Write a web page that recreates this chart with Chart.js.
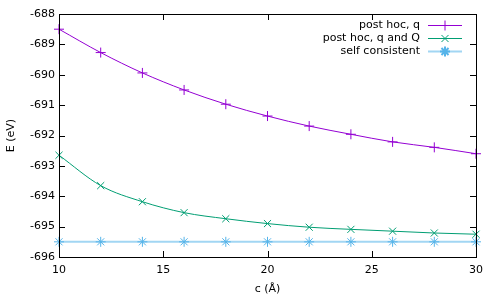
<!DOCTYPE html>
<html>
<head>
<meta charset="utf-8">
<script src="https://cdn.jsdelivr.net/npm/chart.js@4"></script>
<style>
  html, body { margin: 0; padding: 0; background: #fff; }
  #wrap { width: 498px; height: 299px; }
</style>
</head>
<body>
<div id="wrap"><canvas id="energyChart" width="498" height="299"></canvas></div>
<script>
// cell parameter c (Å)
const cValues = [10, 12, 14, 16, 18, 20, 22, 24, 26, 28, 30];
// energies (eV)
const postHocQ = [-688.50, -689.27, -689.94, -690.50, -690.97, -691.36, -691.69, -691.96, -692.21, -692.39, -692.60];
const postHocQandQ = [-692.65, -693.65, -694.18, -694.54, -694.74, -694.90, -695.02, -695.09, -695.15, -695.21, -695.25];
const selfConsistent = [-695.50, -695.50, -695.50, -695.50, -695.50, -695.50, -695.50, -695.50, -695.50, -695.50, -695.50];
const seriesLabels = ["post hoc, q", "post hoc, q and Q", "self consistent"];
const xTicks = [10, 15, 20, 25, 30];
const yTicks = [-696, -695, -694, -693, -692, -691, -690, -689, -688];

const FONT = "'DejaVu Sans', sans-serif";
const FONT_SIZE = 11;

function toPoints(values) {
  return cValues.map((c, i) => ({ x: c, y: values[i] }));
}

// gnuplot-like frame with inward ticks on all four sides
const framePlugin = {
  id: "frame",
  afterDatasetsDraw(chart) {
    const ctx = chart.ctx;
    const a = chart.chartArea;
    const xs = chart.scales.x;
    const ys = chart.scales.y;
    ctx.save();
    ctx.strokeStyle = "#000";
    ctx.lineWidth = 1;
    ctx.beginPath();
    xTicks.forEach((t) => {
      const px = Math.round(xs.getPixelForValue(t)) + 0.5;
      ctx.moveTo(px, a.bottom);
      ctx.lineTo(px, a.bottom - 6);
      ctx.moveTo(px, a.top);
      ctx.lineTo(px, a.top + 6);
    });
    yTicks.forEach((t) => {
      const py = Math.round(ys.getPixelForValue(t)) + 0.5;
      ctx.moveTo(a.left, py);
      ctx.lineTo(a.left + 6, py);
      ctx.moveTo(a.right, py);
      ctx.lineTo(a.right - 6, py);
    });
    ctx.stroke();
    ctx.strokeRect(Math.round(a.left) + 0.5, Math.round(a.top) + 0.5,
      Math.round(a.right - a.left), Math.round(a.bottom - a.top));
    ctx.restore();
  },
  afterDraw(chart) {
    // legend: right-aligned text, sample line with marker on the right
    const ctx = chart.ctx;
    ctx.save();
    ctx.font = FONT_SIZE + "px " + FONT;
    ctx.textAlign = "right";
    ctx.textBaseline = "middle";
    chart.data.datasets.forEach((ds, i) => {
      const y = 25.5 + i * 13;
      ctx.fillStyle = "#000";
      ctx.fillText(ds.label, 420, y);
      ctx.strokeStyle = ds.borderColor;
      ctx.lineWidth = ds.borderWidth;
      ctx.beginPath();
      ctx.moveTo(428, y);
      ctx.lineTo(462, y);
      ctx.stroke();
      ctx.strokeStyle = ds.pointBorderColor;
      Chart.helpers.drawPoint(ctx, {
        pointStyle: ds.pointStyle,
        radius: ds.pointRadius,
        rotation: 0,
        borderWidth: 1
      }, 445, y);
    });
    ctx.restore();
  }
};

const chartCanvas = document.getElementById("energyChart");
new Chart(chartCanvas, {
  type: "line",
  data: {
    datasets: [
      {
        label: seriesLabels[0],
        data: toPoints(postHocQ),
        borderColor: "#9400d3",
        pointBorderColor: "#9400d3",
        backgroundColor: "#9400d3",
        borderWidth: 1,
        pointStyle: "cross",
        pointRadius: 5,
        pointBorderWidth: 1,
        cubicInterpolationMode: "monotone",
      },
      {
        label: seriesLabels[1],
        data: toPoints(postHocQandQ),
        borderColor: "#009e73",
        pointBorderColor: "#009e73",
        backgroundColor: "#009e73",
        borderWidth: 1,
        pointStyle: "crossRot",
        pointRadius: 5,
        pointBorderWidth: 1,
        cubicInterpolationMode: "monotone",
      },
      {
        label: seriesLabels[2],
        data: toPoints(selfConsistent),
        borderColor: "rgba(86,180,233,0.55)",
        pointBorderColor: "#56b4e9",
        backgroundColor: "#56b4e9",
        borderWidth: 2,
        pointStyle: "star",
        pointRadius: 5,
        pointBorderWidth: 1,
      },
    ],
  },
  options: {
    responsive: false,
    animation: false,
    events: [],
    clip: false,
    layout: { padding: { top: 14, right: 22, left: 0, bottom: 0 } },
    plugins: { legend: { display: false }, tooltip: { enabled: false } },
    scales: {
      x: {
        type: "linear",
        min: 10,
        max: 30,
        afterBuildTicks(scale) {
          scale.ticks = xTicks.map((v) => ({ value: v }));
        },
        afterFit(scale) { scale.height = 42; },
        grid: { display: false, drawTicks: false },
        border: { display: false },
        ticks: { color: "#000", font: { family: FONT, size: FONT_SIZE }, padding: 7, maxRotation: 0 },
        title: { display: true, text: "c (Å)", color: "#000", font: { family: FONT, size: FONT_SIZE }, padding: 3 },
      },
      y: {
        type: "linear",
        min: -696,
        max: -688,
        afterBuildTicks(scale) {
          scale.ticks = yTicks.map((v) => ({ value: v }));
        },
        afterFit(scale) { scale.width = 59; },
        grid: { display: false, drawTicks: false },
        border: { display: false },
        ticks: { color: "#000", font: { family: FONT, size: FONT_SIZE }, padding: 4, callback: (v) => String(v) },
        title: { display: true, text: "E (eV)", color: "#000", font: { family: FONT, size: FONT_SIZE }, padding: 5 },
      },
    },
  },
  plugins: [framePlugin],
});
</script>
</body>
</html>
